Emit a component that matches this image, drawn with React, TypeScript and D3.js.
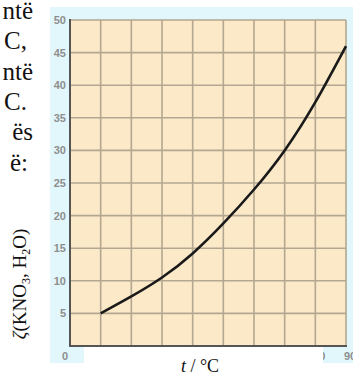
import React, { useRef, useEffect } from 'react';
import * as d3 from 'd3';

// temperature (°C) and solubility readings
const temps = [10, 20, 30, 40, 50, 60, 70, 80, 90];
const zeta = [5, 7.6, 10.5, 14.2, 18.8, 24.0, 30.0, 37.4, 46];
const yTicks = [5, 10, 15, 20, 25, 30, 35, 40, 45, 50];
const xTicks = [0, 10, 20, 30, 40, 50, 60, 70, 80, 90];
const xShown = [80, 90];
const sideWords = ['ntë', 'C,', 'ntë', 'C.', 'ës', 'ë:'];
const sideEnds = [33, 27, 33, 27, 33, 28];

const App = () => {
  const ref = useRef<SVGSVGElement>(null);

  useEffect(() => {
    if (!ref.current) return;
    const svg = d3.select(ref.current);
    svg.selectAll('*').remove();

    const left = 70, right = 346, top = 20, bottom = 346;

    const x = d3.scaleLinear().domain([0, 90]).range([left, right]);
    const y = d3.scaleLinear().domain([0, 50]).range([bottom, top]);

    // page text cut off on the left
    svg.append('g')
      .selectAll('text')
      .data(sideWords)
      .enter().append('text')
      .attr('x', (d, i) => sideEnds[i])
      .attr('y', (d, i) => 19 + i * 30.3)
      .attr('text-anchor', 'end')
      .attr('font-family', '"Liberation Serif", "Times New Roman", serif')
      .attr('font-size', 25)
      .attr('fill', '#111')
      .text(d => d);

    // cyan panel
    svg.append('rect')
      .attr('x', 50).attr('y', 7)
      .attr('width', 303).attr('height', 356)
      .attr('fill', '#e2f7fb');

    svg.append('rect')
      .attr('x', left).attr('y', top)
      .attr('width', right - left).attr('height', bottom - top)
      .attr('fill', '#fce9c8');

    const grid = svg.append('g').attr('stroke', '#b3a791').attr('stroke-width', 1.6);
    grid.selectAll('.vx')
      .data(xTicks.slice(1))
      .enter().append('line')
      .attr('x1', d => x(d)).attr('x2', d => x(d))
      .attr('y1', top).attr('y2', bottom);
    grid.selectAll('.hy')
      .data(yTicks)
      .enter().append('line')
      .attr('x1', left).attr('x2', right)
      .attr('y1', d => y(d)).attr('y2', d => y(d));

    // axes
    svg.append('line')
      .attr('x1', left).attr('x2', left).attr('y1', top - 1).attr('y2', bottom + 1)
      .attr('stroke', '#555').attr('stroke-width', 2);
    svg.append('line')
      .attr('x1', left - 1).attr('x2', right + 1).attr('y1', bottom).attr('y2', bottom)
      .attr('stroke', '#555').attr('stroke-width', 2);

    svg.append('g')
      .selectAll('text')
      .data(yTicks)
      .enter().append('text')
      .attr('x', 66)
      .attr('y', d => y(d) + 4)
      .attr('text-anchor', 'end')
      .attr('font-family', 'Arial, "Liberation Sans", sans-serif')
      .attr('font-size', 11)
      .attr('font-weight', 'bold')
      .attr('fill', '#8e8e8e')
      .text(d => d);

    svg.append('g')
      .selectAll('text')
      .data(xShown)
      .enter().append('text')
      .attr('x', d => x(d) + 4)
      .attr('y', 360)
      .attr('text-anchor', 'middle')
      .attr('font-family', 'Arial, "Liberation Sans", sans-serif')
      .attr('font-size', 11)
      .attr('font-weight', 'bold')
      .attr('fill', '#8e8e8e')
      .text(d => d);
    svg.append('text')
      .attr('x', 65).attr('y', 360)
      .attr('text-anchor', 'middle')
      .attr('font-family', 'Arial, "Liberation Sans", sans-serif')
      .attr('font-size', 11)
      .attr('font-weight', 'bold')
      .attr('fill', '#8e8e8e')
      .text('0');

    // curve
    const line = d3.line<number>()
      .x((d, i) => x(temps[i]))
      .y(d => y(d))
      .curve(d3.curveNatural);
    svg.append('path')
      .attr('d', line(zeta))
      .attr('fill', 'none')
      .attr('stroke', '#1a1a1a')
      .attr('stroke-width', 2.6);

    // white patch with axis title
    svg.append('rect')
      .attr('x', 84).attr('y', 347)
      .attr('width', 239).attr('height', 29)
      .attr('fill', '#fff');

    const xt = svg.append('text')
      .attr('x', 200).attr('y', 372)
      .attr('text-anchor', 'middle')
      .attr('font-family', '"Liberation Serif", "Times New Roman", serif')
      .attr('font-size', 18)
      .attr('fill', '#111');
    xt.append('tspan').attr('font-style', 'italic').text('t');
    xt.append('tspan').text(' / °C');

    const yt = svg.append('text')
      .attr('transform', 'translate(26,284) rotate(-90)')
      .attr('text-anchor', 'middle')
      .attr('font-family', '"Liberation Serif", "Times New Roman", serif')
      .attr('font-size', 19)
      .attr('fill', '#111');
    yt.append('tspan').attr('font-style', 'italic').text('ζ');
    yt.append('tspan').text('(KNO');
    yt.append('tspan').attr('font-size', 12).attr('dy', 4).text('3');
    yt.append('tspan').attr('dy', -4).text(', H');
    yt.append('tspan').attr('font-size', 12).attr('dy', 4).text('2');
    yt.append('tspan').attr('dy', -4).text('O)');
  }, []);

  return (
    <svg
      ref={ref}
      width={353}
      height={376}
      style={{ position: 'absolute', left: 0, top: 0, background: '#fff' }}
    />
  );
};

export default App;
